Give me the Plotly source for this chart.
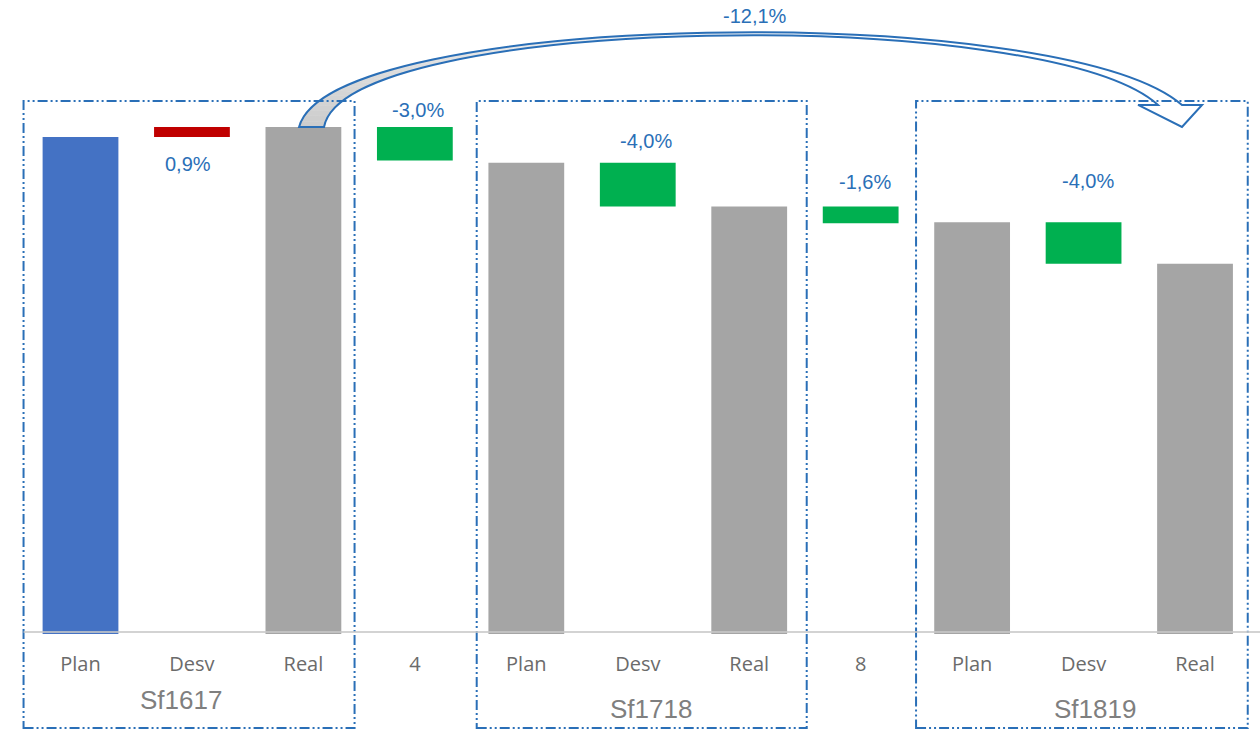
import numpy as np
import plotly.graph_objects as go

# ---- data -----------------------------------------------------------------
tick_labels = ["Plan", "Desv", "Real", "4", "Plan", "Desv", "Real", "8", "Plan", "Desv", "Real"]
periods = ["Sf1617", "Sf1718", "Sf1819"]
plan_values = [1000, 977, 924]
real_values = [1009, 938, 887]
bridge_values = [-30, -15]          # steps "4" and "8" between the periods

# ---- styling --------------------------------------------------------------
BLUE_PLAN = "#4472c4"
GRAY = "#a5a5a5"
RED = "#c00000"
GREEN = "#00b050"
ACCENT = "#2a6fb7"
TEXT_GRAY = "#7f7f7f"
BAR_W = 0.68


def pct_text(delta, base):
    return f"{delta / base * 100:.1f}%".replace(".", ",")


plan_x = [4 * i for i in range(3)]
desv_x = [4 * i + 1 for i in range(3)]
real_x = [4 * i + 2 for i in range(3)]
bridge_x = [4 * i + 3 for i in range(2)]
desv_values = [r - p for r, p in zip(real_values, plan_values)]

fig = go.Figure()

fig.add_bar(x=plan_x, y=plan_values, width=BAR_W,
            marker=dict(color=[BLUE_PLAN, GRAY, GRAY], line=dict(width=0)))
fig.add_bar(x=real_x, y=real_values, width=BAR_W,
            marker=dict(color=GRAY, line=dict(width=0)))
fig.add_bar(x=desv_x, y=desv_values, base=plan_values, width=BAR_W,
            marker=dict(color=[RED if d > 0 else GREEN for d in desv_values], line=dict(width=0)))
fig.add_bar(x=bridge_x, y=bridge_values, base=real_values[:2], width=BAR_W,
            marker=dict(color=GREEN, line=dict(width=0)))

# ---- percentage labels ------------------------------------------------------
label_items = []
for i in range(3):
    label_items.append((desv_x[i], desv_values[i], plan_values[i]))
    if i < 2:
        label_items.append((bridge_x[i], bridge_values[i], real_values[i]))
# order: desv1, gap4, desv2, gap8, desv3
label_dx = [-4, 3, 8, 4, 4]
label_dy = [-27, 17, 22, 25, 41]

annotations = []
for (x, delta, base), dx, dy in zip(label_items, label_dx, label_dy):
    annotations.append(dict(
        x=x, y=base, xref="x", yref="y",
        text=pct_text(delta, base), showarrow=False,
        xshift=dx, yshift=dy, yanchor="middle",
        font=dict(family="Liberation Sans, Arial", size=20, color=ACCENT)))

# overall change between first and last "Real"
annotations.append(dict(
    x=6.05, y=0.974, xref="x", yref="paper",
    text=pct_text(real_values[2] - real_values[0], real_values[0]),
    showarrow=False, yanchor="middle",
    font=dict(family="Liberation Sans, Arial", size=20, color=ACCENT)))

# period names under each group
period_center = [1, 5, 9]
period_shift = [-66, -75, -75]
period_dx = [-11, 13, 11]
for name, cx, sy, dx in zip(periods, period_center, period_shift, period_dx):
    annotations.append(dict(
        x=cx, y=0, xref="x", yref="paper", text=name, showarrow=False,
        yshift=sy, xshift=dx, yanchor="middle",
        font=dict(family="Liberation Sans, Arial", size=26, color=TEXT_GRAY)))

# ---- curved arrow from first Real to last Real ---------------------------------
outer_ctrl = np.array([(1.961, 1009.0), (2.239, 1113.5), (8.789, 1122.4), (9.883, 1028.7)])
inner_ctrl = np.array([(2.185, 1009.0), (2.373, 1109.9), (8.654, 1118.8), (9.668, 1028.7)])
head_pts = [(10.063, 1028.7), (9.883, 1009.0), (9.489, 1028.7)]


def bezier(ctrl, t):
    t = t[:, None]
    return ((1 - t) ** 3 * ctrl[0] + 3 * (1 - t) ** 2 * t * ctrl[1]
            + 3 * (1 - t) * t ** 2 * ctrl[2] + t ** 3 * ctrl[3])


shapes = []
ts = np.linspace(0, 1, 61)
outer_pts = bezier(outer_ctrl, ts)
inner_pts = bezier(inner_ctrl, ts)
for k in range(len(ts) - 1):
    f = min(1.0, ts[k] / 0.6)
    g = int(round(205 + (255 - 205) * f))
    col = f"rgb({g},{g},{g})"
    a, b = outer_pts[k], outer_pts[k + 1]
    c, d = inner_pts[k + 1], inner_pts[k]
    path = f"M {a[0]},{a[1]} L {b[0]},{b[1]} L {c[0]},{c[1]} L {d[0]},{d[1]} Z"
    shapes.append(dict(type="path", path=path, xref="x", yref="y",
                       fillcolor=col, line=dict(color=col, width=0.6)))


def pt(p):
    return f"{p[0]},{p[1]}"


outline = ("M " + pt(outer_ctrl[0]) + " C " + " ".join(pt(p) for p in outer_ctrl[1:])
           + " L " + " L ".join(pt(p) for p in head_pts)
           + " L " + pt(inner_ctrl[3]) + " C " + " ".join(pt(p) for p in inner_ctrl[2::-1]) + " Z")
shapes.append(dict(type="path", path=outline, xref="x", yref="y",
                   fillcolor="rgba(0,0,0,0)", line=dict(color=ACCENT, width=2)))

# ---- dash-dot frames around each period ----------------------------------------
frames = [(-0.511, 2.459), (3.555, 6.516), (7.497, 10.473)]
for x0, x1 in frames:
    shapes.append(dict(type="rect", xref="x", yref="paper", x0=x0, x1=x1,
                       y0=-0.1483, y1=0.8407, fillcolor="rgba(0,0,0,0)",
                       line=dict(color=ACCENT, width=2,
                                 dash="10px,3px,2px,3px,2px,3px")))

# baseline
shapes.append(dict(type="line", xref="x", yref="y", x0=-0.511, x1=10.6,
                   y0=558.1, y1=558.1, line=dict(color="rgba(200,200,200,0.8)", width=2)))

fig.update_layout(
    width=1260, height=731,
    margin=dict(l=0, r=0, t=0, b=97),
    paper_bgcolor="white", plot_bgcolor="white",
    showlegend=False, barmode="overlay",
    xaxis=dict(range=[-0.7223, 10.583], tickmode="array",
               tickvals=list(range(len(tick_labels))), ticktext=tick_labels,
               showgrid=False, zeroline=False, showline=False, ticks="",
               ticklabelstandoff=16,
               tickfont=dict(family="Open Sans", size=20, color="#6b6b6b")),
    yaxis=dict(range=[556.3, 1122.4], visible=False, showgrid=False),
    shapes=shapes, annotations=annotations,
)

fig.write_html("out.html")
